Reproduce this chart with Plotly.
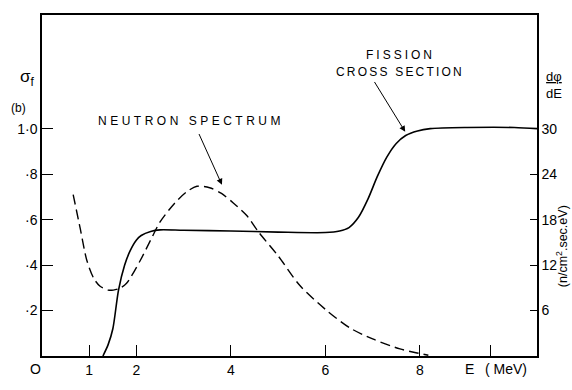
import plotly.graph_objects as go

# ---- data ----
fission_E = [1.29, 1.4, 1.5, 1.62, 1.75, 1.86, 2.0, 2.1, 2.3, 2.5, 3.0, 4.0, 5.0, 6.0,
             6.3, 6.5, 6.7, 6.9, 7.1, 7.3, 7.5, 7.7, 7.95, 8.22, 9.0, 10.0, 10.48]
fission_sigma = [0.0, 0.05, 0.12, 0.29, 0.40, 0.46, 0.51, 0.53, 0.548, 0.555, 0.553, 0.55, 0.545, 0.543,
                 0.55, 0.565, 0.61, 0.69, 0.79, 0.875, 0.935, 0.97, 0.99, 1.0, 1.005, 1.005, 1.0]

spectrum_E = [0.66, 0.81, 0.95, 1.1, 1.23, 1.4, 1.51, 1.65, 1.79, 2.08, 2.3, 2.5, 2.8, 3.05,
              3.28, 3.55, 3.8, 4.05, 4.34, 4.58, 5.0, 5.46, 6.0, 6.52, 7.0, 7.58, 7.94, 8.18]
spectrum_flux = [21.3, 16.8, 12.6, 10.2, 9.2, 8.7, 8.7, 8.95, 9.6, 12.6, 15.3, 17.7, 20.1, 21.6,
                 22.4, 22.2, 21.45, 20.2, 18.5, 16.4, 13.2, 9.3, 6.15, 3.7, 2.25, 0.93, 0.4, 0.1]

x_tickvals = [1, 2, 4, 6, 8, 9.5]
x_ticktext = ["1", "2", "4", "6", "8", ""]
y_tickvals = [0.2, 0.4, 0.6, 0.8, 1.0]
y_ticktext = ["·2", "·4", "·6", "·8", "1·0"]
y2_tickvals = [6, 12, 18, 24, 30]
y2_ticktext = ["6", "12", "18", "24", "30"]

# ---- layout geometry ----
W, H = 572, 390
L, R, T, B = 42, 35, 15, 21
PW, PH = W - L - R, H - T - B


def px(xp):
    return (xp - L) / PW


def py(yp):
    return (H - B - yp) / PH


FONT = "Liberation Sans"
fig = go.Figure()

fig.add_trace(go.Scatter(x=fission_E, y=fission_sigma, mode="lines",
                         line=dict(color="black", width=1.6, shape="spline", smoothing=0.8),
                         yaxis="y", hoverinfo="skip"))
fig.add_trace(go.Scatter(x=spectrum_E, y=spectrum_flux, mode="lines",
                         line=dict(color="black", width=1.4, dash="10px,5px", shape="spline", smoothing=0.8),
                         yaxis="y2", hoverinfo="skip"))

axis_common = dict(showgrid=False, zeroline=False, showline=True, linecolor="black", linewidth=1.5,
                   ticks="inside", tickcolor="black", tickwidth=1.2,
                   tickfont=dict(family=FONT, size=14, color="black"))

fig.update_layout(
    width=W, height=H,
    margin=dict(l=L, r=R, t=T, b=B),
    paper_bgcolor="white", plot_bgcolor="white",
    showlegend=False,
    font=dict(family=FONT, color="black"),
    xaxis=dict(range=[0, 10.48], tickvals=x_tickvals, ticktext=x_ticktext, ticklen=11,
               mirror=True, **axis_common),
    yaxis=dict(range=[0, 1.5], tickvals=y_tickvals, ticktext=y_ticktext, ticklen=11,
               mirror=True, **axis_common),
    yaxis2=dict(range=[0, 45], tickvals=y2_tickvals, ticktext=y2_ticktext, ticklen=7,
                overlaying="y", side="right", **axis_common),
)


def label(xp, yp, text, size, **kw):
    return dict(x=px(xp), y=py(yp), xref="paper", yref="paper", showarrow=False,
                xanchor="center", yanchor="middle", text=text,
                font=dict(size=size, family=FONT, color="black"), **kw)


ann = []
# curve labels
ann.append(label(191, 125, '<span style="letter-spacing:3.5px">NEUTRON SPECTRUM</span>', 12))
ann.append(label(400, 57, '<span style="letter-spacing:3px">FISSION</span>', 12))
ann.append(label(400, 74, '<span style="letter-spacing:2.2px">CROSS SECTION</span>', 12))
# arrows
ann.append(dict(x=3.81, y=0.753, ax=3.31, ay=0.983, xref="x", yref="y", axref="x", ayref="y",
                text="", showarrow=True, arrowhead=2, arrowsize=1.2, arrowwidth=1, arrowcolor="black"))
ann.append(dict(x=7.69, y=0.986, ax=7.02, ay=1.212, xref="x", yref="y", axref="x", ayref="y",
                text="", showarrow=True, arrowhead=2, arrowsize=1.2, arrowwidth=1, arrowcolor="black"))
# axis titles
ann.append(label(27, 80, "σ<sub>f</sub>", 17))
ann.append(label(18, 112, "(b)", 12))
ann.append(label(35, 382, "O", 14))
ann.append(label(469, 382, "E", 14))
ann.append(label(506, 382, "( MeV)", 14))
ann.append(label(554, 88, "<u>dφ</u><br>dE", 13))
ann.append(label(562, 255, "(n/cm<sup>2</sup>.sec.eV)", 12.5, textangle=-90))
fig.update_layout(annotations=ann)

fig.write_html("out.html", config={"displayModeBar": False},
               post_script="document.body.style.margin='0';document.body.style.overflow='hidden';")
